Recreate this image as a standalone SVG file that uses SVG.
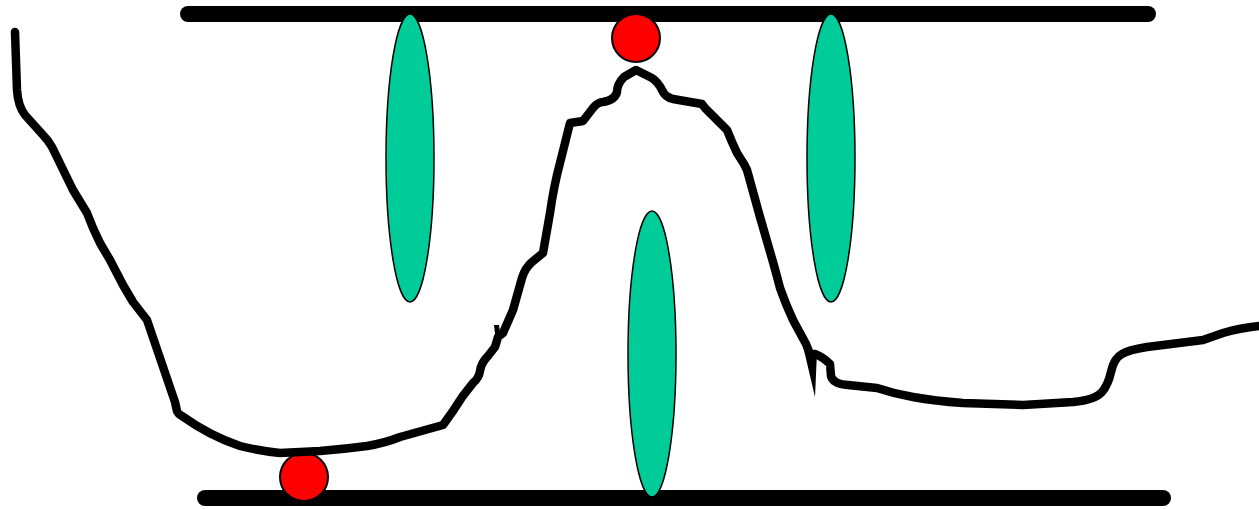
<svg xmlns="http://www.w3.org/2000/svg" width="1259" height="509" viewBox="0 0 1259 509">
<style>
.bar{stroke:#000;stroke-width:16;stroke-linecap:round;fill:none}
.curve{stroke:#000;stroke-width:8.5;stroke-linecap:round;stroke-linejoin:round;fill:none}
.ball{fill:#ff0000;stroke:#000;stroke-width:2}
.lens{fill:#00cc99;stroke:#000;stroke-width:1.5}
</style>
<rect width="1259" height="509" fill="#fff"/>
<g id="bars">
<line class="bar" x1="188" y1="14" x2="1148" y2="14"/>
<line class="bar" x1="205" y1="498" x2="1163" y2="498"/>
</g>
<g id="balls">
<circle class="ball" cx="636" cy="38" r="24"/>
<circle class="ball" cx="304" cy="477" r="24"/>
</g>
<g id="lenses">
<ellipse class="lens" cx="410" cy="158" rx="24" ry="144"/>
<ellipse class="lens" cx="831" cy="158" rx="24" ry="144"/>
<ellipse class="lens" cx="652" cy="354" rx="24" ry="143"/>
</g>
<g id="curve">
<path class="curve" d="M15,32 L17,90 Q18,106 25,115 L43,135 Q48,140 52,147 L73,190 L87,213 L93,228 L100,243 L110,260 L123,285 L133,302 L147,320 L175,402 L177,411 Q178,414 182,416 Q210,436 240,446 Q260,451 280,453 L320,451 Q345,449 367,446 Q385,443 400,437 L443,425 L453,411 Q462,396 473,383 Q479,378 480,371 Q481,363 488,356 L495,347 L498,337 L503,333 L513,310 L522,278 Q525,268 532,262 L543,253 L550,213 Q554,185 560,163 L570,123 L583,121 L593,108 Q598,102 603,102 Q615,100 617,92 Q617,84 624,77 L636,70 L652,78 Q658,82 662,90 Q665,97 673,99 L702,104 L705,108 L727,130 L732,142 L737,153 L744,164 L747,170 L760,217 L773,262 Q778,280 780,288 Q786,305 793,320 L806,344 L810,354 L815,354 Q823,357 830,364 L831,376 Q833,384 848,385 L877,388 Q895,394 913,397 Q935,401 963,403 L1023,405 L1073,402 Q1095,400 1102,392 Q1108,385 1111,372 Q1114,358 1122,354 Q1128,350 1147,347 L1203,340 L1223,333 Q1240,328 1259,326"/>
<polygon points="803,346 815,397 817,352" fill="#000"/>
<polygon points="494,325 499,325 501,340 496,342" fill="#000"/>
</g>
</svg>
